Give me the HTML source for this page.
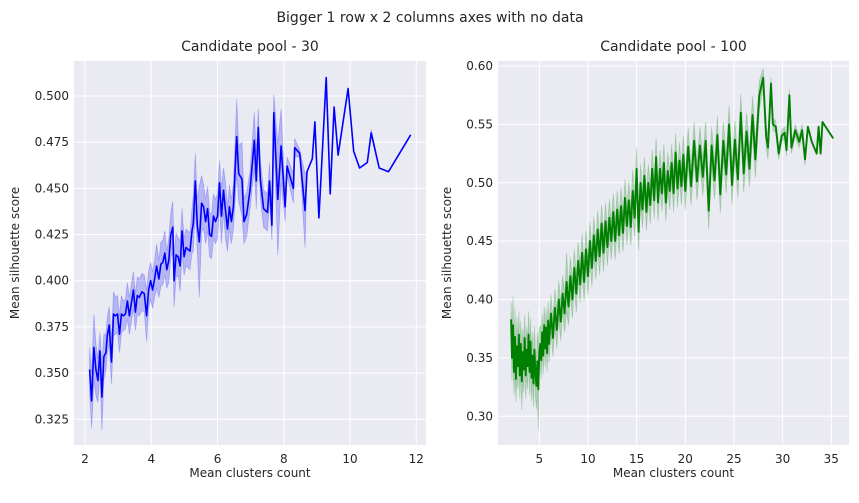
<!DOCTYPE html>
<html><head><meta charset="utf-8"><style>
body{margin:0;background:#fff;font-family:"Liberation Sans","DejaVu Sans",sans-serif}
svg text{font-family:"DejaVu Sans","Liberation Sans",sans-serif;fill:#262626}
</style></head><body>
<svg id="c" width="859" height="498" xmlns="http://www.w3.org/2000/svg">
<text x="430" y="22" text-anchor="middle" font-size="14">Bigger 1 row x 2 columns axes with no data</text>
</svg>
<script>
// Left: [x, mean, ci half-width]
const leftData=[[2.14,.352,.012],[2.20,.335,.015],[2.27,.364,.018],[2.33,.352,.014],[2.39,.346,.012],[2.45,.362,.01],[2.51,.337,.018],[2.57,.359,.012],[2.63,.361,.01],[2.67,.370,.01],[2.73,.376,.01],[2.80,.356,.012],[2.86,.382,.012],[2.92,.381,.01],[2.98,.382,.01],[3.04,.371,.01],[3.10,.382,.01],[3.16,.381,.008],[3.22,.382,.008],[3.28,.389,.01],[3.34,.381,.01],[3.40,.388,.01],[3.46,.395,.01],[3.52,.383,.01],[3.58,.392,.01],[3.64,.391,.01],[3.72,.394,.01],[3.79,.393,.01],[3.86,.381,.014],[3.92,.395,.01],[3.98,.400,.01],[4.04,.395,.01],[4.10,.401,.01],[4.16,.408,.012],[4.23,.401,.01],[4.29,.409,.012],[4.35,.410,.012],[4.41,.415,.012],[4.47,.406,.01],[4.53,.411,.012],[4.59,.425,.012],[4.65,.429,.014],[4.69,.400,.014],[4.75,.414,.012],[4.81,.413,.01],[4.87,.408,.014],[4.93,.427,.012],[4.99,.413,.01],[5.05,.418,.01],[5.11,.417,.01],[5.17,.416,.01],[5.23,.427,.012],[5.27,.431,.015],[5.33,.454,.015],[5.39,.430,.014],[5.45,.421,.03],[5.52,.442,.015],[5.58,.440,.012],[5.64,.432,.012],[5.70,.439,.012],[5.76,.425,.012],[5.82,.424,.012],[5.88,.435,.012],[5.94,.432,.012],[6.00,.435,.012],[6.06,.453,.012],[6.12,.435,.015],[6.18,.449,.012],[6.24,.438,.015],[6.30,.428,.012],[6.36,.440,.012],[6.42,.432,.012],[6.48,.440,.012],[6.58,.478,.02],[6.64,.458,.015],[6.74,.455,.02],[6.80,.432,.012],[6.88,.436,.012],[6.98,.449,.01],[7.11,.476,.015],[7.17,.454,.015],[7.23,.483,.01],[7.29,.455,.01],[7.39,.439,.01],[7.51,.437,.01],[7.57,.454,.01],[7.64,.430,.008],[7.70,.491,.01],[7.82,.444,.03],[7.92,.473,.02],[8.04,.440,.008],[8.10,.462,.005],[8.29,.450,.008],[8.33,.472,.005],[8.48,.469,.002],[8.64,.438,.02],[8.70,.459,0],[8.86,.466,0],[8.94,.486,0],[9.06,.434,0],[9.28,.510,0],[9.40,.447,0],[9.52,.494,0],[9.64,.468,0],[9.94,.504,0],[10.11,.470,0],[10.29,.461,0],[10.52,.464,0],[10.64,.480,.002],[10.88,.461,0],[11.16,.459,0],[11.83,.479,0]];
const leftXTicks=[2,4,6,8,10,12];
const leftYTicks=[0.325,0.350,0.375,0.400,0.425,0.450,0.475,0.500];
const rightData=[[2.1,.383,.015],[2.2,.350,.02],[2.3,.378,.025],[2.4,.338,.02],[2.5,.368,.025],[2.6,.332,.02],[2.7,.360,.025],[2.8,.343,.02],[2.9,.370,.02],[3.0,.335,.02],[3.1,.362,.02],[3.2,.330,.025],[3.3,.355,.02],[3.4,.340,.02],[3.5,.367,.02],[3.6,.335,.02],[3.7,.357,.02],[3.8,.343,.02],[3.9,.370,.02],[4.0,.338,.02],[4.1,.364,.02],[4.2,.333,.02],[4.3,.352,.02],[4.4,.328,.02],[4.5,.357,.02],[4.6,.338,.02],[4.7,.326,.02],[4.8,.347,.025],[4.9,.323,.035],[5.0,.355,.02],[5.1,.362,.016],[5.2,.348,.016],[5.3,.372,.016],[5.4,.352,.016],[5.5,.378,.016],[5.6,.358,.016],[5.7,.376,.016],[5.8,.354,.016],[5.9,.382,.016],[6.0,.362,.016],[6.2,.388,.016],[6.4,.367,.016],[6.6,.393,.016],[6.8,.374,.016],[7.0,.400,.016],[7.2,.381,.016],[7.4,.405,.016],[7.6,.388,.016],[7.8,.415,.025],[8.0,.394,.016],[8.2,.420,.016],[8.4,.400,.016],[8.6,.427,.016],[8.8,.405,.016],[9.0,.433,.016],[9.2,.413,.016],[9.4,.440,.016],[9.6,.415,.016],[9.8,.443,.016],[10.0,.420,.016],[10.2,.450,.016],[10.4,.427,.016],[10.6,.455,.016],[10.8,.433,.016],[11.0,.460,.016],[11.2,.437,.016],[11.4,.465,.016],[11.6,.440,.016],[11.8,.467,.016],[12.0,.445,.016],[12.2,.470,.016],[12.4,.450,.016],[12.6,.475,.016],[12.8,.450,.016],[13.0,.477,.016],[13.2,.455,.016],[13.4,.480,.016],[13.6,.457,.016],[13.8,.487,.016],[14.0,.463,.016],[14.2,.485,.016],[14.4,.462,.016],[14.6,.493,.018],[14.8,.470,.016],[15.0,.512,.018],[15.2,.458,.016],[15.4,.500,.016],[15.6,.477,.016],[15.8,.506,.016],[16.0,.475,.016],[16.2,.500,.016],[16.4,.481,.016],[16.6,.512,.016],[16.8,.485,.016],[17.0,.522,.016],[17.2,.483,.016],[17.4,.512,.016],[17.6,.491,.016],[17.8,.517,.016],[18.0,.483,.016],[18.2,.510,.016],[18.4,.493,.016],[18.6,.517,.016],[18.8,.491,.016],[19.0,.526,.016],[19.2,.495,.016],[19.4,.519,.016],[19.6,.497,.016],[19.8,.524,.016],[20.0,.493,.016],[20.3,.531,.016],[20.6,.497,.016],[20.9,.536,.016],[21.2,.501,.016],[21.5,.532,.016],[21.8,.505,.016],[22.1,.536,.016],[22.4,.476,.016],[22.7,.532,.016],[23.0,.502,.016],[23.3,.541,.016],[23.6,.490,.016],[23.9,.536,.016],[24.2,.507,.016],[24.5,.550,.016],[24.8,.498,.016],[25.1,.537,.016],[25.4,.503,.016],[25.7,.560,.016],[26.0,.508,.016],[26.3,.544,.016],[26.6,.512,.016],[26.9,.558,.016],[27.2,.520,.016],[27.6,.575,.012],[28.0,.590,.008],[28.3,.540,.01],[28.5,.530,.01],[28.8,.585,.005],[29.0,.550,.005],[29.3,.548,.005],[29.6,.525,.005],[29.9,.540,.005],[30.2,.543,.005],[30.4,.528,.005],[30.7,.575,.005],[30.9,.530,.005],[31.3,.545,.005],[31.7,.535,.005],[32.0,.545,.005],[32.3,.520,.005],[32.6,.548,0],[33.0,.535,0],[33.5,.525,0],[33.7,.548,0],[33.9,.525,0],[34.1,.552,0],[35.2,.538,0]];
const rightXTicks=[5,10,15,20,25,30,35];
const rightYTicks=[0.30,0.35,0.40,0.45,0.50,0.55,0.60];

const NS='http://www.w3.org/2000/svg';
const svg=document.getElementById('c');
function mk(tag,at,parent){const e=document.createElementNS(NS,tag);for(const k in at)e.setAttribute(k,at[k]);(parent||svg).appendChild(e);return e;}

function panel(o){
  const g=mk('g',{});
  
  
  const sx=v=>o.px0+(v-o.x0)*(o.px1-o.px0)/(o.x1-o.x0);
  const sy=v=>o.py0+(v-o.y0)*(o.py1-o.py0)/(o.y1-o.y0);
  const bg=mk('rect',{x:o.L,y:o.T,width:o.R-o.L,height:o.B-o.T,fill:'#eaeaf2'},g);
  
  
  o.xt.forEach(t=>{const x=sx(t);
    const l=mk('line',{x1:x,x2:x,y1:o.T,y2:o.B,stroke:'#fff','stroke-width':1},g);
    
    
    const tx=mk('text',{x:x,y:o.B+18,'text-anchor':'middle','font-size':12},g);tx.textContent=t;
    
    });
  o.yt.forEach(t=>{const y=sy(t);
    const l=mk('line',{x1:o.L,x2:o.R,y1:y,y2:y,stroke:'#fff','stroke-width':1},g);
    
    
    const tx=mk('text',{x:o.L-5,y:y+4,'text-anchor':'end','font-size':12},g);tx.textContent=t.toFixed(o.dec);
    
    });
  const d=o.data;
  let band='M'+d.map(p=>sx(p[0]).toFixed(1)+','+sy(p[1]+p[2]).toFixed(1)).join('L');
  band+='L'+d.slice().reverse().map(p=>sx(p[0]).toFixed(1)+','+sy(p[1]-p[2]).toFixed(1)).join('L')+'Z';
  const b=mk('path',{d:band,fill:o.band,stroke:o.band,'stroke-width':0.8},g);
  
  
  const ln=mk('path',{d:'M'+d.map(p=>sx(p[0]).toFixed(1)+','+sy(p[1]).toFixed(1)).join('L'),fill:'none',stroke:o.color,'stroke-width':o.lw,'stroke-linejoin':'round'},g);
  
  
  const tt=mk('text',{x:(o.L+o.R)/2,y:o.T-10,'text-anchor':'middle','font-size':14},g);tt.textContent=o.title;
  
  
  const xl=mk('text',{x:(o.L+o.R)/2,y:o.B+32,'text-anchor':'middle','font-size':12},g);xl.textContent='Mean clusters count';
  
  
  const cy=(o.T+o.B)/2;
  const yl=mk('text',{x:o.ylx,y:cy,'text-anchor':'middle','font-size':12,transform:`rotate(-90 ${o.ylx} ${cy})`},g);yl.textContent='Mean silhouette score';
  
  
}
panel({name:'left-axes',L:74,R:426,T:61,B:445,x0:2,x1:12,px0:85,px1:416.3,y0:0.5,y1:0.325,py0:96,py1:419.3,xt:leftXTicks,yt:leftYTicks,dec:3,data:leftData,color:'#0000ff',band:'rgba(0,0,255,0.22)',title:'Candidate pool - 30',ylx:19,lw:1.6});
panel({name:'right-axes',L:498,R:849,T:61,B:445,x0:5,x1:35,px0:539.3,px1:831.3,y0:0.6,y1:0.3,py0:66,py1:416.3,xt:rightXTicks,yt:rightYTicks,dec:2,data:rightData,color:'#008000',band:'rgba(0,128,0,0.22)',title:'Candidate pool - 100',ylx:451,lw:1.9});
</script>
</body></html>
